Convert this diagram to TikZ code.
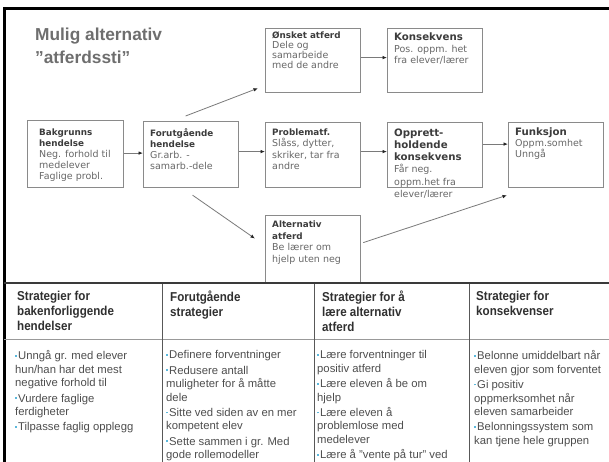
\documentclass[tikz,border=0pt]{standalone}
\usepackage{fontspec}
\setmainfont{Liberation Sans}
\newfontfamily\vfont{DejaVu Sans}
\newfontfamily\hdrfont[FakeStretch=0.9]{Liberation Sans}
\usetikzlibrary{arrows.meta}
\definecolor{boxgray}{HTML}{8A8A8A}
\definecolor{ttl}{HTML}{3C3C3C}
\definecolor{bod}{HTML}{686868}
\definecolor{arrgray}{HTML}{7A7A7A}
\definecolor{maintitle}{HTML}{6E6E6E}
\definecolor{hdr}{HTML}{303030}
\definecolor{tbody}{HTML}{4E4E4E}
\definecolor{bulletblue}{HTML}{5BB8DC}
\definecolor{tline}{HTML}{3A3A3A}
\newcommand\boxttl[1]{{\bfseries\color{ttl}\fontsize{8.8}{\the\baselineskip}\selectfont #1}}
\newcommand\bigttl[1]{{\bfseries\color{ttl}\fontsize{10.2}{\the\baselineskip}\selectfont #1}}
\newcommand\bul{{\color{bulletblue}\rule[0.28em]{1.7pt}{1.7pt}}\hspace{1.3pt}}
\tikzset{
  box/.style={draw=boxgray, line width=1.2pt, anchor=north west, inner sep=0pt},
  btxt/.style={anchor=north west, inner sep=0pt, align=left, text=bod, font=\vfont\fontsize{9.5}{#1}\selectfont},
  btxt/.default=11,
  arr/.style={draw=arrgray, line width=0.8pt, -{Latex[length=4.5pt,width=3.6pt,color=black!85]}},
  hdrtxt/.style={anchor=north west, inner sep=0pt, align=left, text=hdr, font=\hdrfont\bfseries\fontsize{12.9}{15.2}\selectfont},
  bodytxt/.style={anchor=north west, inner sep=0pt, align=left, text=tbody, font=\fontsize{11.3}{13.4}\selectfont},
  vline/.style={draw=tline!85, line width=1pt},
}
\begin{document}
\begin{tikzpicture}[x=1pt,y=-1pt]
\useasboundingbox (0,0) rectangle (609,462);
\clip (0,0) rectangle (609,462);
\fill[white] (0,0) rectangle (609,462);
% frame
\draw[line width=3pt] (3,9) -- (609,9);
\draw[line width=3pt] (4.3,7.5) -- (4.3,462);
% title
\node[anchor=north west, inner sep=0pt, align=left, text=maintitle, font=\fontsize{17.3}{23}\selectfont\bfseries] (title) at (35,27.5) {Mulig alternativ\\”atferdssti”};
% boxes
\node[box, minimum width=96pt, minimum height=67pt] (bak) at (27,120) {};
\node[box, minimum width=95pt, minimum height=66pt] (for) at (143,121) {};
\node[box, minimum width=95pt, minimum height=64pt] (onsk) at (265,28) {};
\node[box, minimum width=95pt, minimum height=64pt] (kons) at (387,28) {};
\node[box, minimum width=95pt, minimum height=65pt] (prob) at (265,122) {};
\node[box, minimum width=95pt, minimum height=65pt] (opp) at (387,122) {};
\node[box, minimum width=95pt, minimum height=65pt] (funk) at (508,122) {};
\node[box, minimum width=95pt, minimum height=68pt] (alt) at (265,215) {};
% box texts
\node[btxt] (bakt) at (39,128.5) {\boxttl{Bakgrunns}\\\boxttl{hendelse}\\Neg. forhold til\\medelever\\Faglige probl.};
\node[btxt] (fort) at (150,128.5) {\boxttl{Forutgående}\\\boxttl{hendelse}\\Gr.arb. -\\samarb.-dele};
\node[btxt=10] (onskt) at (272,32) {\boxttl{Ønsket atferd}\\Dele og\\samarbeide\\med de andre};
\node[btxt=11.5] (konst) at (394,33) {\bigttl{Konsekvens}\\Pos. oppm. het\\fra elever/lærer};
\node[btxt=11.5] (probt) at (272,128.5) {\boxttl{Problematf.}\\Slåss, dytter,\\skriker, tar fra\\andre};
\node[btxt=12.2] (oppt) at (394,128.5) {\bigttl{Opprett-}\\\bigttl{holdende}\\\bigttl{konsekvens}\\Får neg.\\oppm.het fra\\elever/lærer};
\node[btxt=10.6] (funkt) at (515,128) {\bigttl{Funksjon}\\Oppm.somhet\\Unngå};
\node[btxt=11.5] (altt) at (272,221) {\boxttl{Alternativ}\\\boxttl{atferd}\\Be lærer om\\hjelp uten neg};
% arrows
\draw[arr] ([yshift=1pt]bak.east) -- ([yshift=1.5pt]for.west);
\draw[arr] ([yshift=3pt]for.east) -- ([yshift=3.5pt]prob.west);
\draw[arr] ([shift={(-5.5,-5)}]for.north) -- ([shift={(-7,-5)}]onsk.south west);
\draw[arr] ([shift={(1.5,7)}]for.south) -- ([shift={(-10,-11)}]alt.west);
\draw[arr] ([yshift=3pt]onsk.east) -- ([yshift=3pt]kons.west);
\draw[arr] ([yshift=3.5pt]prob.east) -- ([yshift=3.5pt]opp.west);
\draw[arr] ([yshift=11pt]opp.east) -- ([yshift=11pt]funk.west);
\draw[arr] ([shift={(2,-7)}]alt.east) -- ([shift={(-1,7)}]funk.south west);
% table
\draw[draw=tline, line width=2.5pt] (4,283) -- (609,283);
\draw[draw=black!40, line width=1pt] (4,339) -- (609,339);
\draw[vline] (162,284) -- (162,462);
\draw[vline] (314.5,284) -- (314.5,462);
\draw[vline] (469.5,284) -- (469.5,462);
% headers
\node[hdrtxt] (h1) at (17,290.5) {Strategier for\\bakenforliggende\\hendelser};
\node[hdrtxt] (h2) at (170,290.5) {Forutgående\\strategier};
\node[hdrtxt] (h3) at (322,290.5) {Strategier for å\\lære alternativ\\atferd};
\node[hdrtxt] (h4) at (476,290.5) {Strategier for\\konsekvenser};
% bodies
\node[bodytxt] (b1) at (15,350.5) {\bul Unngå gr. med elever\\hun/han har det mest\\negative forhold til\\[2pt]\bul Vurdere faglige\\ferdigheter\\[2pt]\bul Tilpasse faglig opplegg};
\node[bodytxt] (b2) at (166,350.5) {\bul Definere forventninger\\[2pt]\bul Redusere antall\\muligheter for å måtte\\dele\\[2pt]\bul Sitte ved siden av en mer\\kompetent elev\\[2pt]\bul Sette sammen i gr. Med\\gode rollemodeller};
\node[bodytxt] (b3) at (317,350.5) {\bul Lære forventninger til\\positiv atferd\\[2pt]\bul Lære eleven å be om\\hjelp\\[2pt]\bul Lære eleven å\\problemlose med\\medelever\\[2pt]\bul Lære å ”vente på tur” ved};
\node[bodytxt] (b4) at (474,350.5) {\bul Belonne umiddelbart når\\eleven gjor som forventet\\[2pt]\bul Gi positiv\\oppmerksomhet når\\eleven samarbeider\\[2pt]\bul Belonningssystem som\\kan tjene hele gruppen};
\end{tikzpicture}
\end{document}
